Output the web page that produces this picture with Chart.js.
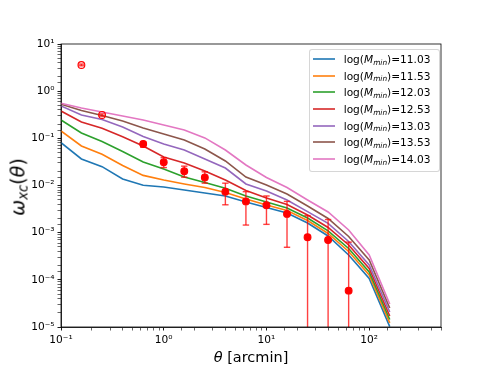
<!DOCTYPE html>
<html>
<head>
<meta charset="utf-8">
<script src="https://cdn.jsdelivr.net/npm/chart.js@4/dist/chart.umd.min.js"></script>
<style>
  body { margin: 0; background: #fff; }
  #wrap { position: relative; width: 490px; height: 368px; }
  #chart { position: absolute; left: 0; top: 0; }
  .lbl { position: absolute; font-family: "DejaVu Sans"; font-weight: normal; color: #000; white-space: nowrap; line-height: 1; }
  .lbl sub, #legend sub { font-size: 70%; vertical-align: baseline; position: relative; top: 0.25em; line-height: 0; }
  #legend {
    position: absolute; left: 309px; top: 49px; width: 131px; height: 123px;
    box-sizing: border-box; border: 1px solid rgba(204,204,204,0.8); border-radius: 3px;
    background: rgba(255,255,255,0.8); font-family: "DejaVu Sans"; font-size: 10.6px;
    padding-top: 0.5px;
  }
  #legend .row { display: flex; align-items: center; height: 16.7px; }
  #legend svg { display: block; margin-left: 2.7px; }
  #legend .tx { margin-left: 9px; white-space: nowrap; }
</style>
</head>
<body>
<div id="wrap">
  <canvas id="chart" width="490" height="368"></canvas>
  <div id="legend"></div>
  <div class="lbl" style="left:251px;top:357px;transform:translate(-50%,-50%);font-size:14.5px"><i>θ</i> [arcmin]</div>
  <div class="lbl" style="left:18px;top:187px;transform:translate(-50%,-50%) rotate(-90deg);font-size:19px"><i>ω</i><sub><i>xc</i></sub>(<i>θ</i>)</div>
</div>
<script>
// model angles (arcmin)
const thetaModel = [0.1, 0.158, 0.251, 0.398, 0.631, 1.0, 1.585, 2.512, 3.981, 6.31, 10.0, 15.85, 25.12, 39.81, 63.1, 100.0, 158.5];

const massLabels = ['11.03', '11.53', '12.03', '12.53', '13.03', '13.53', '14.03'];
const lineColors = ['#1f77b4', '#ff7f0e', '#2ca02c', '#d62728', '#9467bd', '#8c564b', '#e377c2'];

const w1103 = [0.0809, 0.0365, 0.0251, 0.0137, 0.0101, 0.00929, 0.00803, 0.00693, 0.0060, 0.00447, 0.00342, 0.00261, 0.0016, 0.000851, 0.000337, 0.000107, 1.02e-5];
const w1153 = [0.143, 0.0689, 0.0459, 0.0265, 0.0164, 0.0131, 0.0108, 0.00908, 0.00711, 0.00518, 0.00386, 0.00295, 0.00181, 0.000961, 0.000399, 0.000127, 1.22e-5];
const w1203 = [0.245, 0.130, 0.0857, 0.0526, 0.0315, 0.0224, 0.0151, 0.0116, 0.00873, 0.0060, 0.00447, 0.00334, 0.00205, 0.00109, 0.000462, 0.000147, 1.44e-5];
const w1253 = [0.380, 0.222, 0.163, 0.108, 0.0689, 0.0402, 0.0300, 0.0203, 0.0131, 0.00783, 0.00543, 0.00396, 0.00237, 0.00129, 0.000548, 0.000174, 1.71e-5];
const w1303 = [0.485, 0.313, 0.251, 0.174, 0.109, 0.0759, 0.0566, 0.0365, 0.0235, 0.0108, 0.00766, 0.00493, 0.00279, 0.00157, 0.00065, 0.000207, 2.08e-5];
const w1353 = [0.527, 0.389, 0.305, 0.233, 0.166, 0.124, 0.0923, 0.0594, 0.0331, 0.0151, 0.0103, 0.00661, 0.00368, 0.0020, 0.00083, 0.000264, 2.53e-5];
const w1403 = [0.553, 0.440, 0.361, 0.298, 0.245, 0.192, 0.150, 0.102, 0.0566, 0.0272, 0.0148, 0.00908, 0.00493, 0.00274, 0.00114, 0.000337, 3.08e-5];
const modelSeries = [w1103, w1153, w1203, w1253, w1303, w1353, w1403];

// measurements
const thetaObs = [0.158, 0.251, 0.631, 1.0, 1.585, 2.512, 3.981, 6.31, 10.0, 15.85, 25.12, 39.81, 63.1];
const wObs     = [3.59, 0.313, 0.076, 0.031, 0.020, 0.0148, 0.0074, 0.0046, 0.0038, 0.0025, 0.0008, 0.0007, 5.9e-5];
const wObsLo   = [3.45, 0.295, 0.065, 0.024, 0.0150, 0.0112, 0.0039, 0.00145, 0.0015, 0.00049, 1e-7, 1e-7, 1e-7];
const wObsHi   = [3.75, 0.330, 0.085, 0.039, 0.0257, 0.0195, 0.0112, 0.0074, 0.0060, 0.0046, 0.0023, 0.0019, 0.00063];
const obsOpen  = [true, true, false, false, false, false, false, false, false, false, false, false, false];

const FONT = 'DejaVu Sans';
const supDigits = { '-': '⁻', '0': '⁰', '1': '¹', '2': '²', '3': '³', '4': '⁴', '5': '⁵', '6': '⁶', '7': '⁷', '8': '⁸', '9': '⁹' };
const decadeLabel = (v) => {
  const e = Math.round(Math.log10(v));
  if (Math.abs(Math.log10(v) - e) > 1e-6) return '';
  return '10' + String(e).split('').map(c => supDigits[c]).join('');
};
const isDecade = (v) => decadeLabel(v) !== '';

const datasets = [];

modelSeries.forEach((arr, i) => {
  datasets.push({
    model: true,
    mass: massLabels[i],
    label: 'log(Mmin)=' + massLabels[i],
    data: thetaModel.map((t, j) => ({ x: t, y: arr[j] })),
    showLine: true,
    borderColor: lineColors[i],
    backgroundColor: lineColors[i],
    borderWidth: 1.6,
    pointRadius: 0,
    tension: 0,
    order: 20 - i
  });
});

thetaObs.forEach((t, i) => {
  datasets.push({
    label: 'err',
    data: [{ x: t, y: wObsLo[i] }, { x: t, y: wObsHi[i] }],
    showLine: true,
    borderColor: 'rgba(255,0,0,0.75)',
    borderWidth: 1.4,
    pointStyle: 'line',
    pointRadius: 3.2,
    pointBorderWidth: 1.4,
    pointBorderColor: 'rgba(255,0,0,0.75)',
    clip: { left: 5, right: 5, top: 5, bottom: 0 },
    order: 5
  });
});

datasets.push({
  label: 'obs',
  data: thetaObs.map((t, i) => ({ x: t, y: wObs[i] })),
  showLine: false,
  pointStyle: 'circle',
  pointRadius: 3.4,
  pointBorderWidth: 1.1,
  pointBorderColor: '#ff0000',
  pointBackgroundColor: obsOpen.map(o => o ? 'rgba(0,0,0,0)' : '#ff0000'),
  order: 0
});

const plotFrame = {
  id: 'plotFrame',
  afterDraw(chart) {
    const { ctx, chartArea: a } = chart;
    ctx.save();
    ctx.strokeStyle = '#000';
    ctx.lineWidth = 0.8;
    ctx.strokeRect(a.left, a.top, a.right - a.left, a.bottom - a.top);
    ctx.restore();
  }
};

const htmlLegend = {
  id: 'htmlLegend',
  afterUpdate(chart) {
    const box = document.getElementById('legend');
    box.innerHTML = '';
    chart.data.datasets.filter(d => d.model).forEach(d => {
      const row = document.createElement('div');
      row.className = 'row';
      row.innerHTML = '<svg width="22" height="4"><line x1="0" y1="2" x2="22" y2="2" stroke="' + d.borderColor + '" stroke-width="1.6"/></svg>' +
        '<span class="tx">log(<i>M</i><sub><i>min</i></sub>)=' + d.mass + '</span>';
      box.appendChild(row);
    });
  }
};

const axisCommon = {
  type: 'logarithmic',
  grid: {
    display: true,
    drawOnChartArea: false,
    drawTicks: true,
    tickLength: 3.5,
    tickColor: '#000',
    tickWidth: (c) => (c.tick && isDecade(c.tick.value)) ? 0.9 : 0.6
  },
  border: { display: true, color: '#000', width: 0.8 },
  ticks: {
    autoSkip: false,
    maxRotation: 0,
    padding: 3,
    color: '#000',
    font: { family: FONT, size: 10.6 },
    callback: (v) => decadeLabel(v)
  }
};

new Chart(document.getElementById('chart'), {
  type: 'scatter',
  data: { datasets },
  options: {
    responsive: false,
    animation: false,
    devicePixelRatio: 1,
    layout: { padding: { left: 0, right: 49, top: 44, bottom: 0 } },
    plugins: {
      legend: { display: false },
      tooltip: { enabled: false }
    },
    scales: {
      x: Object.assign({}, axisCommon, {
        position: 'bottom',
        min: 0.1,
        max: 500,
        afterFit: (s) => { s.height = 41; }
      }),
      y: Object.assign({}, axisCommon, {
        position: 'left',
        min: 1e-5,
        max: 10,
        afterFit: (s) => { s.width = 61; }
      })
    }
  },
  plugins: [plotFrame, htmlLegend]
});
</script>
</body>
</html>
